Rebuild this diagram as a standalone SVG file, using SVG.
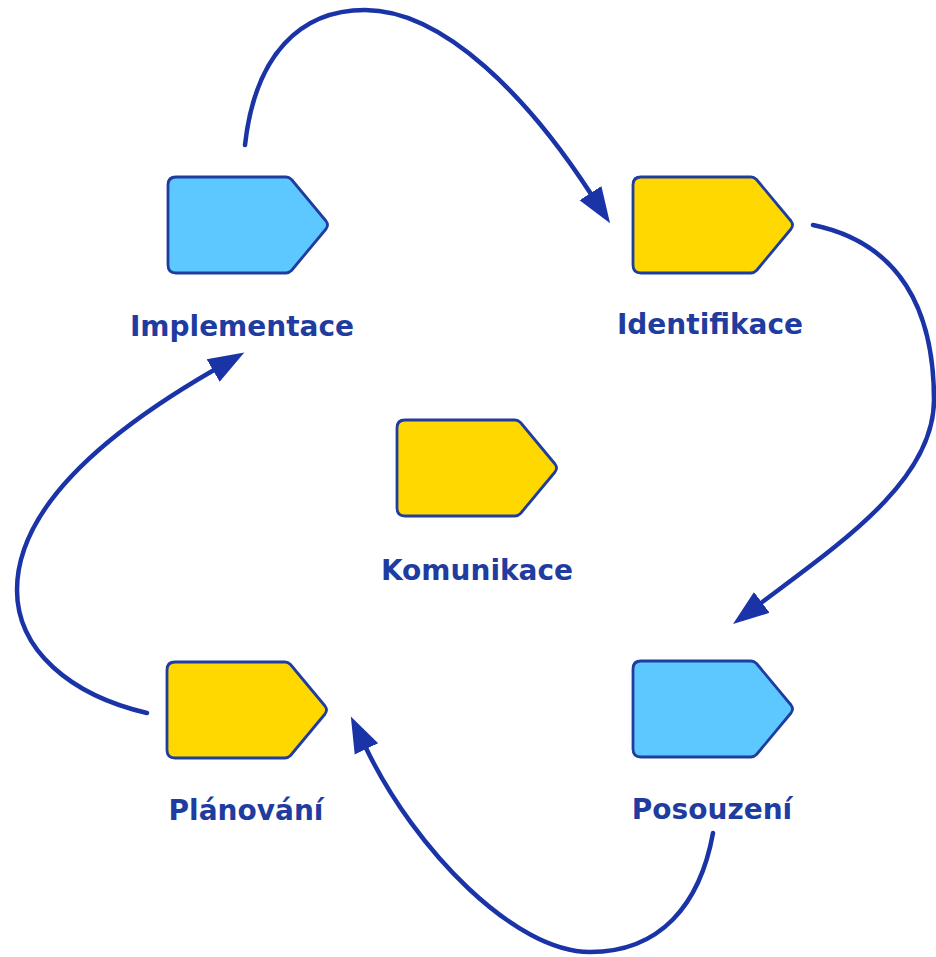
<svg xmlns="http://www.w3.org/2000/svg" width="936" height="957" viewBox="0 0 936 957">
  <style>
    .tag { stroke: #1f3c9f; stroke-width: 2.8; stroke-linejoin: round; }
    .blue { fill: #5cc8ff; }
    .yellow { fill: #ffd800; }
    .label { font-family: "DejaVu Sans", Verdana, sans-serif; font-weight: bold; font-size: 28px; fill: #1f3ca0; text-anchor: middle; }
    .flow { fill: none; stroke: #1a34a8; stroke-width: 4.5; stroke-linecap: round; marker-end: url(#head); }
  </style>
  <defs>
    <!-- tag-shaped node outline, 160 x 96 -->
    <path id="tag" d="M8,0 H118 Q121,0 123.5,2.5 L158,44 Q161,48 158,52 L123.5,93.5 Q121,96 118,96 H8 Q0,96 0,88 V8 Q0,0 8,0 Z"/>
    <marker id="head" markerUnits="userSpaceOnUse" viewBox="0 -14 37 28" markerWidth="37" markerHeight="28" refX="1" refY="0" orient="auto">
      <path d="M0,-13 L36,0 L0,13 Z" fill="#1a34a8"/>
    </marker>
  </defs>

  <g id="connectors">
    <path class="flow" d="M245,145 C255,55 300,10 365,10 C445,10 530,100 591,194"/>
    <path class="flow" d="M813,225 C900,243 934,310 934,400 C934,480 841,543 761,603"/>
    <path class="flow" d="M713,833 C700,905 660,952 590,952 C515,952 415,850 366,748"/>
    <path class="flow" d="M147,713 C70,695 17,650 17,590 C17,505 110,430 214,370"/>
  </g>

  <g id="implementace">
    <use href="#tag" class="tag blue" x="168" y="177"/>
    <text class="label" x="242" y="336">Implementace</text>
  </g>

  <g id="identifikace">
    <use href="#tag" class="tag yellow" x="633" y="177"/>
    <text class="label" x="710" y="334">Identifikace</text>
  </g>

  <g id="komunikace">
    <use href="#tag" class="tag yellow" x="397" y="420"/>
    <text class="label" x="477" y="580">Komunikace</text>
  </g>

  <g id="planovani">
    <use href="#tag" class="tag yellow" x="167" y="662"/>
    <text class="label" x="246" y="820">Plánování</text>
  </g>

  <g id="posouzeni">
    <use href="#tag" class="tag blue" x="633" y="661"/>
    <text class="label" x="712" y="819">Posouzení</text>
  </g>
</svg>
